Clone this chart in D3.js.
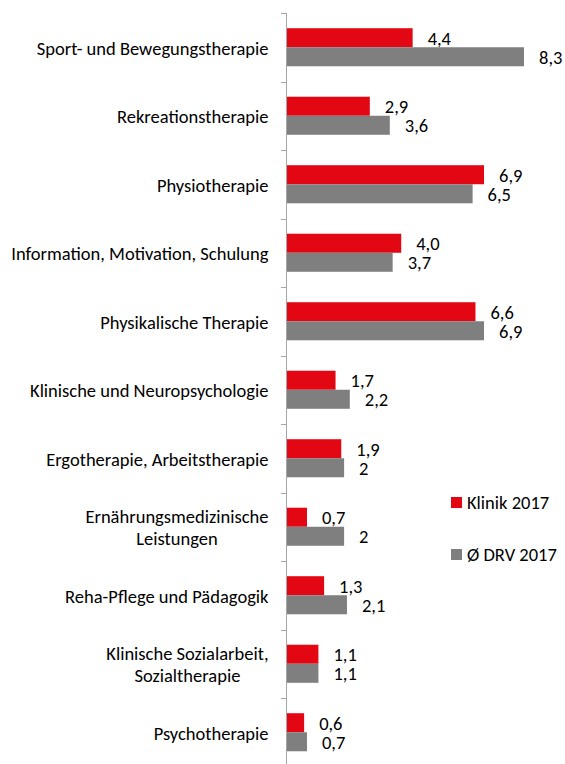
<!DOCTYPE html>
<html>
<head>
<meta charset="utf-8">
<script src="https://cdn.jsdelivr.net/npm/d3@7"></script>
<style>
  body { margin: 0; background: #fff; }
  text { font-family: Carlito, Calibri, Lato, "Liberation Sans", sans-serif; fill: #000; }
</style>
</head>
<body>
<script>
// chart data
var categories = [
  ["Sport- und Bewegungstherapie"],
  ["Rekreationstherapie"],
  ["Physiotherapie"],
  ["Information, Motivation, Schulung"],
  ["Physikalische Therapie"],
  ["Klinische und Neuropsychologie"],
  ["Ergotherapie, Arbeitstherapie"],
  ["Ernährungsmedizinische", "Leistungen"],
  ["Reha-Pflege und Pädagogik"],
  ["Klinische Sozialarbeit,", "Sozialtherapie"],
  ["Psychotherapie"]
];
var klinik = [4.4, 2.9, 6.9, 4.0, 6.6, 1.7, 1.9, 0.7, 1.3, 1.1, 0.6];
var drv = [8.3, 3.6, 6.5, 3.7, 6.9, 2.2, 2, 2, 2.1, 1.1, 0.7];
var klinikLabels = ["4,4", "2,9", "6,9", "4,0", "6,6", "1,7", "1,9", "0,7", "1,3", "1,1", "0,6"];
var drvLabels = ["8,3", "3,6", "6,5", "3,7", "6,9", "2,2", "2", "2", "2,1", "1,1", "0,7"];
var seriesNames = ["Klinik 2017", "Ø DRV 2017"];
var seriesColors = ["#e30613", "#7f7f7f"];

var width = 565, height = 764;
var fontSize = 18.5;

var svg = d3.select("body").append("svg")
            .attr("width", width)
            .attr("height", height);

var x = d3.scaleLinear().domain([0, 8.3]).range([287, 524]);

var y = d3.scaleBand()
          .domain(d3.range(categories.length))
          .range([13, 13 + 68.5 * categories.length])
          .paddingInner(0).paddingOuter(0);

var ySeries = d3.scaleBand()
                .domain([0, 1])
                .range([0, y.bandwidth()])
                .paddingInner(0)
                .paddingOuter(0.8);

// axis line + ticks at band edges
svg.append("line")
   .attr("x1", 286.5).attr("x2", 286.5)
   .attr("y1", 13).attr("y2", height)
   .attr("stroke", "#a6a6a6").attr("stroke-width", 1);

var tickPos = d3.range(categories.length + 1).map(function(i) { return 13 + y.step() * i; });
svg.selectAll("line.tick")
   .data(tickPos)
   .enter().append("line")
   .attr("class", "tick")
   .attr("x1", 281).attr("x2", 287)
   .attr("y1", function(d) { return Math.round(d) + 0.5; })
   .attr("y2", function(d) { return Math.round(d) + 0.5; })
   .attr("stroke", "#a6a6a6");

var series = [klinik, drv];
var seriesLabels = [klinikLabels, drvLabels];

series.forEach(function(vals, s) {
  var g = svg.append("g");
  g.selectAll("rect")
   .data(vals)
   .enter().append("rect")
   .attr("x", x(0))
   .attr("y", function(d, i) { return y(i) + ySeries(s); })
   .attr("width", function(d) { return x(d) - x(0); })
   .attr("height", ySeries.bandwidth())
   .attr("fill", seriesColors[s]);

  g.selectAll("text")
   .data(vals)
   .enter().append("text")
   .attr("x", function(d) { return x(d) + 15; })
   .attr("y", function(d, i) { return y(i) + ySeries(s) + ySeries.bandwidth() / 2 + 7; })
   .attr("font-size", fontSize)
   .text(function(d, i) { return seriesLabels[s][i]; });
});

// category labels (multi-line centred among themselves, block right aligned)
var catG = svg.selectAll("g.cat")
              .data(categories)
              .enter().append("g")
              .attr("class", "cat");

catG.each(function(lines, i) {
  var g = d3.select(this);
  var cy = y(i) + y.bandwidth() / 2;
  var texts = lines.map(function(line, j) {
    return g.append("text")
            .attr("font-size", fontSize)
            .attr("y", cy + (j - (lines.length - 1) / 2) * 22 + 7.5)
            .text(line);
  });
  var widths = texts.map(function(t) { return t.node().getComputedTextLength(); });
  var maxW = d3.max(widths);
  var centre = 268.5 - maxW / 2;
  texts.forEach(function(t) {
    t.attr("x", centre).attr("text-anchor", "middle");
  });
});

// legend
var legend = svg.selectAll("g.legend")
                .data(seriesNames)
                .enter().append("g")
                .attr("class", "legend")
                .attr("transform", function(d, i) { return "translate(451," + (497 + i * 52) + ")"; });

legend.append("rect")
      .attr("width", 11).attr("height", 11)
      .attr("fill", function(d, i) { return seriesColors[i]; });

legend.append("text")
      .attr("x", 16).attr("y", 12)
      .attr("font-size", fontSize)
      .text(function(d) { return d; });
</script>
</body>
</html>
